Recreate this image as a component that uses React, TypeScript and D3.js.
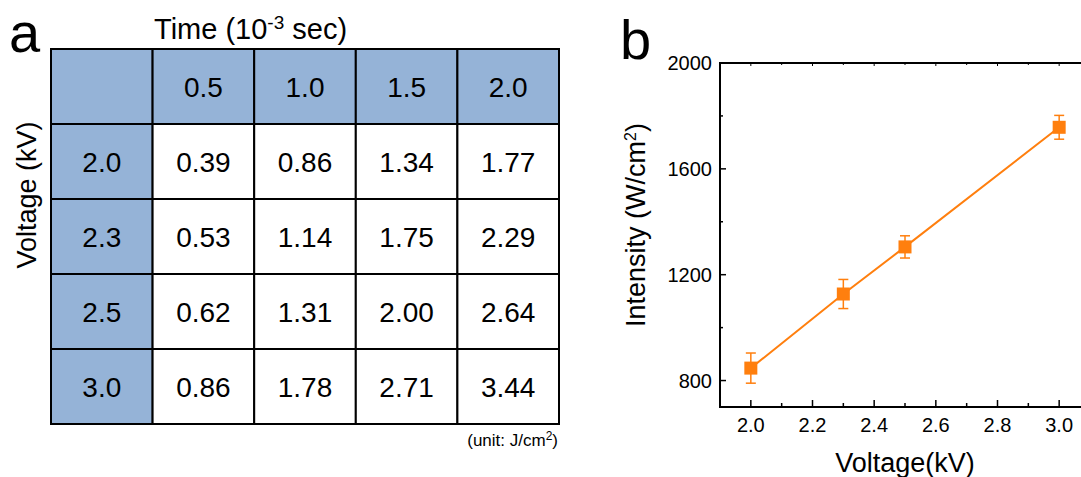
import React from "react";
import * as d3 from "d3";

// ---- Panel a data ----
const timeLabels = ["0.5", "1.0", "1.5", "2.0"];
const voltageLabels = ["2.0", "2.3", "2.5", "3.0"];
const energyRow1 = ["0.39", "0.86", "1.34", "1.77"];
const energyRow2 = ["0.53", "1.14", "1.75", "2.29"];
const energyRow3 = ["0.62", "1.31", "2.00", "2.64"];
const energyRow4 = ["0.86", "1.78", "2.71", "3.44"];
const energyRows = [energyRow1, energyRow2, energyRow3, energyRow4];

// ---- Panel b data ----
const voltages = [2.0, 2.3, 2.5, 3.0];
const intensity = [847, 1127, 1305, 1757];
const intensityErr = [57, 55, 42, 45];
const xMajorTicks = [2.0, 2.2, 2.4, 2.6, 2.8, 3.0];
const xMinorTicks = [2.1, 2.3, 2.5, 2.7, 2.9];
const yMajorTicks = [800, 1200, 1600, 2000];
const yMinorTicks = [1000, 1400, 1800];

const FONT = "'Liberation Sans', Arial, Helvetica, sans-serif";
const ORANGE = "#FF7F0E";
const BLUE = "#95B3D7";

export default function App() {
  const W = 1081, H = 477;

  // table
  const colKeys = ["head", ...timeLabels];
  const rowKeys = ["head", ...voltageLabels];
  const cx = d3.scaleBand<string>().domain(colKeys).range([51, 559]);
  const cy = d3.scaleBand<string>().domain(rowKeys).range([49, 424]);
  const cw = cx.bandwidth();
  const ch = cy.bandwidth();

  // chart
  const x = d3.scaleLinear().domain([1.9, 3.1]).range([720, 1090]);
  const y = d3.scaleLinear().domain([700, 2000]).range([407, 63]);
  const line = d3.line<number>().x((_, i) => x(voltages[i])).y((d) => y(d));

  const cells: React.ReactNode[] = [];
  rowKeys.forEach((r, ri) => {
    colKeys.forEach((c, ci) => {
      const blue = ri === 0 || ci === 0;
      let txt = "";
      if (ri === 0 && ci > 0) txt = timeLabels[ci - 1];
      else if (ci === 0 && ri > 0) txt = voltageLabels[ri - 1];
      else if (ri > 0 && ci > 0) txt = energyRows[ri - 1][ci - 1];
      cells.push(
        <g key={`${ri}-${ci}`}>
          <rect x={cx(c)} y={cy(r)} width={cw} height={ch} fill={blue ? BLUE : "#fff"} stroke="#000" strokeWidth={2} />
          {txt && (
            <text x={(cx(c) as number) + cw / 2} y={(cy(r) as number) + ch / 2 + 10} textAnchor="middle" fontSize={28} fill="#000">
              {txt}
            </text>
          )}
        </g>
      );
    });
  });

  return (
    <svg width={W} height={H} style={{ position: "absolute", left: 0, top: 0, fontFamily: FONT, background: "#fff" }}>
      <rect width={W} height={H} fill="#fff" />
      {/* Panel a */}
      <text x={9} y={52} fontSize={56}>a</text>
      <text x={154} y={39} fontSize={29}>
        Time (10<tspan dy={-10} fontSize={19}>-3</tspan><tspan dy={10}> sec)</tspan>
      </text>
      <text transform={`translate(36,195) rotate(-90)`} textAnchor="middle" fontSize={27}>Voltage (kV)</text>
      {cells}
      <text x={558} y={446} textAnchor="end" fontSize={17}>
        (unit: J/cm<tspan dy={-6} fontSize={12}>2</tspan><tspan dy={6}>)</tspan>
      </text>

      {/* Panel b */}
      <text x={620} y={59} fontSize={56}>b</text>
      {/* axes lines */}
      <line x1={x.range()[0]} x2={x.range()[1]} y1={y(700)} y2={y(700)} stroke="#000" strokeWidth={2} />
      <line x1={x.range()[0]} x2={x.range()[1]} y1={y(2000)} y2={y(2000)} stroke="#000" strokeWidth={2} />
      <line x1={x(1.9)} x2={x(1.9)} y1={y(700) + 1} y2={y(2000) - 1} stroke="#000" strokeWidth={2} />
      {xMajorTicks.map((t) => (
        <g key={`xm${t}`}>
          <line x1={x(t)} x2={x(t)} y1={y(700)} y2={y(700) - 7} stroke="#000" strokeWidth={1.5} />
          <line x1={x(t)} x2={x(t)} y1={y(2000)} y2={y(2000) + 3} stroke="#000" strokeWidth={1} />
          <text x={x(t)} y={432} textAnchor="middle" fontSize={20}>{t.toFixed(1)}</text>
        </g>
      ))}
      {xMinorTicks.map((t) => (
        <g key={`xn${t}`}>
          <line x1={x(t)} x2={x(t)} y1={y(700)} y2={y(700) - 4} stroke="#000" strokeWidth={1.5} />
          <line x1={x(t)} x2={x(t)} y1={y(2000)} y2={y(2000) + 2} stroke="#000" strokeWidth={1} />
        </g>
      ))}
      {yMajorTicks.map((t) => (
        <g key={`ym${t}`}>
          <line x1={x(1.9)} x2={x(1.9) + 6} y1={y(t)} y2={y(t)} stroke="#000" strokeWidth={1.5} />
          <text x={712} y={y(t) + 7} textAnchor="end" fontSize={20}>{t}</text>
        </g>
      ))}
      {yMinorTicks.map((t) => (
        <line key={`yn${t}`} x1={x(1.9)} x2={x(1.9) + 3} y1={y(t)} y2={y(t)} stroke="#000" strokeWidth={1.5} />
      ))}
      {/* data */}
      <path d={line(intensity) as string} fill="none" stroke={ORANGE} strokeWidth={2} />
      {intensity.map((v, i) => {
        const px = x(voltages[i]);
        const e = intensityErr[i];
        return (
          <g key={`p${i}`} stroke={ORANGE} strokeWidth={1.5}>
            <line x1={px} x2={px} y1={y(v - e)} y2={y(v + e)} />
            <line x1={px - 5} x2={px + 5} y1={y(v - e)} y2={y(v - e)} />
            <line x1={px - 5} x2={px + 5} y1={y(v + e)} y2={y(v + e)} />
            <rect x={px - 6.5} y={y(v) - 6.5} width={13} height={13} fill={ORANGE} stroke="none" />
          </g>
        );
      })}
      <text x={905} y={472} textAnchor="middle" fontSize={27}>Voltage(kV)</text>
      <text transform={`translate(645,225) rotate(-90)`} textAnchor="middle" fontSize={27}>
        Intensity (W/cm<tspan dy={-9} fontSize={16}>2</tspan><tspan dy={9}>)</tspan>
      </text>
    </svg>
  );
}
